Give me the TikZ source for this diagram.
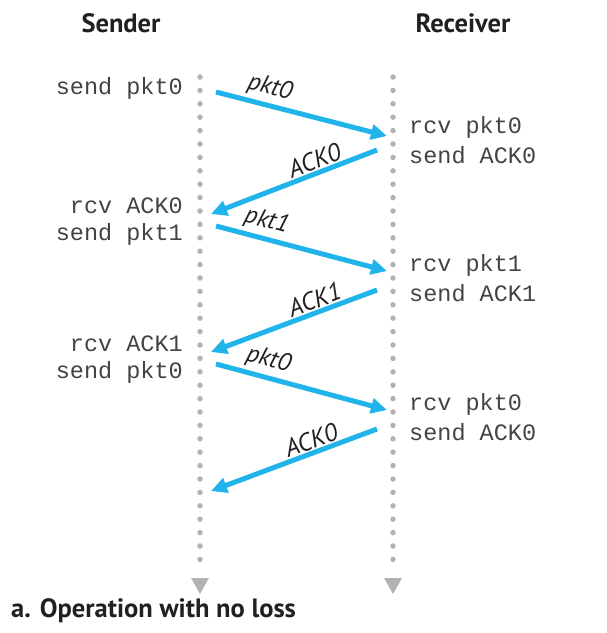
\documentclass[tikz,border=0pt]{standalone}
\usepackage{fontspec}
\setmainfont{PT Sans}
\setmonofont{Liberation Mono}
\usetikzlibrary{arrows.meta}
\definecolor{pktblue}{RGB}{33,180,234}
\definecolor{dotgray}{RGB}{178,178,180}
\definecolor{txtgray}{RGB}{70,66,66}
\definecolor{hdark}{RGB}{35,31,32}
\tikzset{
  timeline/.style={line width=5.5pt, dotgray, line cap=round, dash pattern=on 0pt off 13.4pt},
  endtri/.style={fill=dotgray, draw=none},
  msg/.style={line width=5pt, pktblue, -{Triangle[length=16pt,width=15pt]}},
  evtl/.style={font=\ttfamily\fontsize{23.5}{26}\selectfont, text=txtgray, anchor=east, inner sep=0pt},
  evtr/.style={font=\ttfamily\fontsize{23.5}{26}\selectfont, text=txtgray, anchor=west, inner sep=0pt},
  lbl/.style={font=\itshape\fontsize{25}{27}\selectfont, text=hdark, sloped, above, inner sep=3.5pt},
  head/.style={font=\bfseries\fontsize{26.5}{28}\selectfont, text=hdark, inner sep=0pt}
}
\begin{document}
\begin{tikzpicture}[x=1pt,y=-1pt]
\useasboundingbox (0,0) rectangle (607,633);
% headers
\node[head] (sender) at (121,23) {Sender};
\node[head] (receiver) at (463,23) {Receiver};
% timelines
\coordinate (stop) at (200,77);
\coordinate (sbot) at (200,572);
\coordinate (rtop) at (393,77);
\coordinate (rbot) at (393,572);
\draw[timeline] (stop) -- (sbot);
\draw[timeline] (rtop) -- (rbot);
\fill[endtri] (191,578) -- (209,578) -- (200,594) -- cycle;
\fill[endtri] (384,578) -- (402,578) -- (393,594) -- cycle;
% events sender
\node[evtl] (e1) at (183,88) {send pkt0};
\node[evtl] (e2) at (183,206) {rcv ACK0};
\node[evtl] (e3) at (183,234) {send pkt1};
\node[evtl] (e4) at (183,344) {rcv ACK1};
\node[evtl] (e5) at (183,372) {send pkt0};
% events receiver
\node[evtr] (f1) at (409,127) {rcv pkt0};
\node[evtr] (f2) at (409,155) {send ACK0};
\node[evtr] (f3) at (409,265) {rcv pkt1};
\node[evtr] (f4) at (409,293) {send ACK1};
\node[evtr] (f5) at (409,404) {rcv pkt0};
\node[evtr] (f6) at (409,432) {send ACK0};
% message endpoints
\coordinate (a1) at (216,92);  \coordinate (b1) at (387,136);
\coordinate (a2) at (377,150); \coordinate (b2) at (211,214);
\coordinate (a3) at (216,226); \coordinate (b3) at (387,271);
\coordinate (a4) at (377,290); \coordinate (b4) at (211,352);
\coordinate (a5) at (216,364); \coordinate (b5) at (387,410);
\coordinate (a6) at (377,429); \coordinate (b6) at (211,491);
% messages
\draw[msg] (a1) -- node[lbl, pos=0.29] (l1) {pkt0} (b1);
\path (b2) -- node[lbl, pos=0.65] (l2) {ACK0} (a2);
\draw[msg] (a2) -- (b2);
\draw[msg] (a3) -- node[lbl, pos=0.27] (l3) {pkt1} (b3);
\path (b4) -- node[lbl, pos=0.65] (l4) {ACK1} (a4);
\draw[msg] (a4) -- (b4);
\draw[msg] (a5) -- node[lbl, pos=0.28] (l5) {pkt0} (b5);
\path (b6) -- node[lbl, pos=0.63] (l6) {ACK0} (a6);
\draw[msg] (a6) -- (b6);
% caption
\node[font=\bfseries\fontsize{26.5}{28}\selectfont, text=hdark, anchor=west, inner sep=0pt] (cap) at (11,611) {a. Operation with no loss};
\end{tikzpicture}
\end{document}
